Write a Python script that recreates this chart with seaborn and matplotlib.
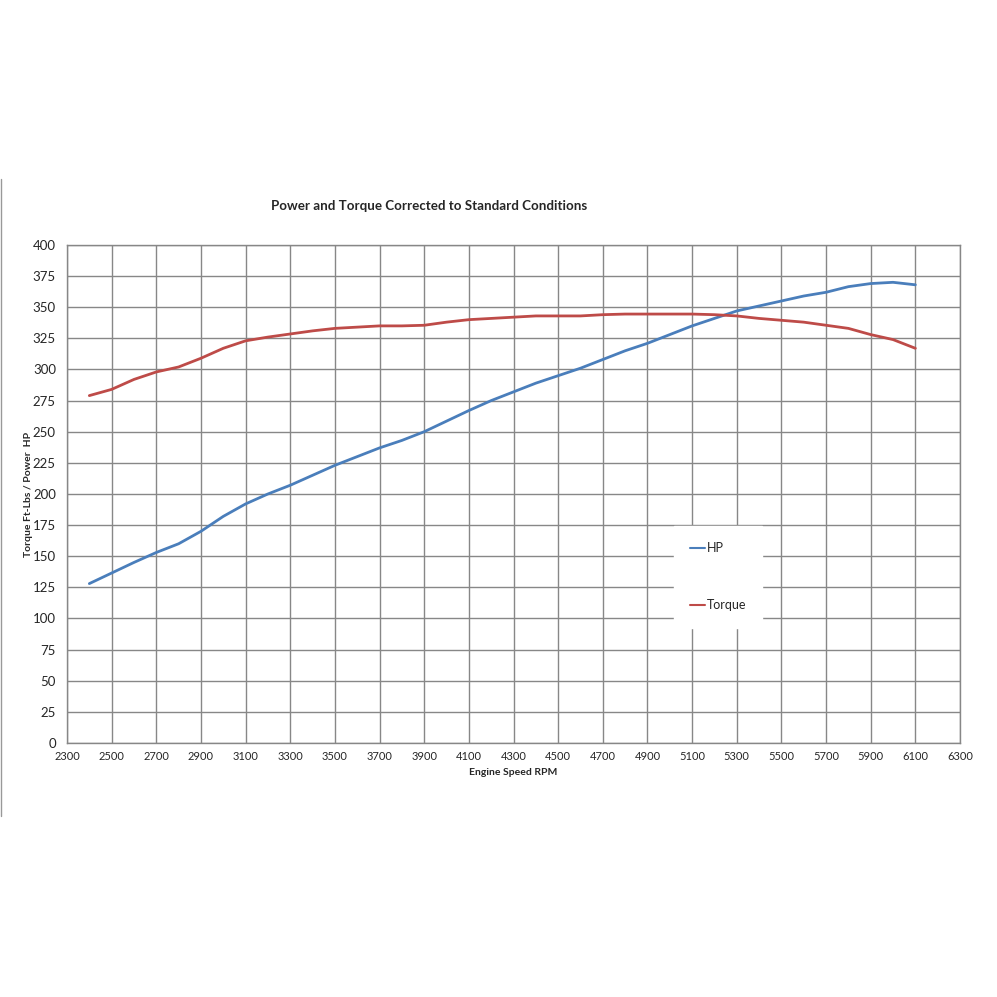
import numpy as np
import pandas as pd
import matplotlib.pyplot as plt
import seaborn as sns
from matplotlib.lines import Line2D

rpm = [2400, 2500, 2600, 2700, 2800, 2900, 3000, 3100, 3200, 3300,
       3400, 3500, 3600, 3700, 3800, 3900, 4000, 4100, 4200, 4300,
       4400, 4500, 4600, 4700, 4800, 4900, 5000, 5100, 5200, 5300,
       5400, 5500, 5600, 5700, 5800, 5900, 6000, 6100]
hp = [128, 136.5, 145, 153, 160, 170, 182, 192, 200, 207,
      215, 223, 230, 237, 243, 250, 258.5, 267, 275, 282,
      289, 295, 301, 308, 315, 321, 328, 335, 341, 347,
      351, 355, 359, 362, 366.5, 369, 370, 368]
torque = [279, 284, 292, 298, 302, 309, 317, 323, 326, 328.5,
          331, 333, 334, 335, 335, 335.5, 338, 340, 341, 342,
          343, 343, 343, 344, 344.5, 344.5, 344.5, 344.5, 344, 343,
          341, 339.5, 338, 335.5, 333, 328, 324, 317]

df = pd.DataFrame({"rpm": rpm * 2,
                   "value": hp + torque,
                   "series": ["HP"] * len(rpm) + ["Torque"] * len(rpm)})

sns.set_style("white")
plt.rcParams["font.family"] = ["Lato", "DejaVu Sans"]

fig = plt.figure(figsize=(9.97, 9.97), dpi=100)
ax = fig.add_axes([0.0672, 0.2548, 0.8957, 0.4995])

sns.lineplot(data=df, x="rpm", y="value", hue="series",
             palette={"HP": "#4a7ebb", "Torque": "#be4b48"},
             linewidth=2, ax=ax)

ax.set_xlim(2300, 6300)
ax.set_ylim(0, 400)
ax.set_xticks(np.arange(2300, 6301, 200))
ax.set_yticks(np.arange(0, 401, 25))
ax.grid(True, color="#878787", linewidth=1)
for s in ax.spines.values():
    s.set_color("#878787")
    s.set_linewidth(1)
ax.tick_params(axis="y", length=5, color="#878787", labelsize=9.5, pad=3)
ax.tick_params(axis="x", length=0, labelsize=8, pad=6)

ax.set_xlabel("Engine Speed RPM", fontsize=7.5, fontweight="bold", labelpad=4)
ax.set_ylabel("Torque Ft-Lbs / Power  HP", fontsize=7.5, fontweight="bold")
ax.yaxis.set_label_coords(-0.038, 0.5)
fig.text(0.43, 0.793, "Power and Torque Corrected to Standard Conditions",
         fontsize=9.6, fontweight="bold", ha="center", va="center")

leg = ax.legend(loc="upper left", bbox_to_anchor=(0.673, 0.448),
                fontsize=9, handlelength=1.2, handletextpad=0.1,
                labelspacing=3.6, borderpad=1.3, frameon=True,
                fancybox=False, framealpha=1, edgecolor="white",
                facecolor="white")
for h in leg.get_lines():
    h.set_linewidth(1.5)

fig.add_artist(Line2D([0.0015, 0.0015], [0.182, 0.82], color="#999999", linewidth=1))

plt.savefig("out.png", dpi=100)
